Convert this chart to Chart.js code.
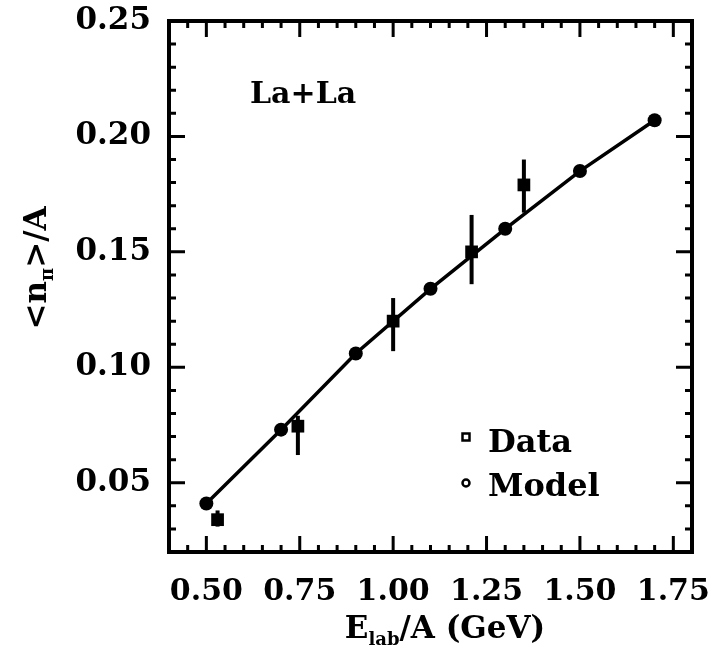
<!DOCTYPE html>
<html>
<head>
<meta charset="utf-8">
<script src="https://cdn.jsdelivr.net/npm/chart.js@4"></script>
<style>
  html, body { margin: 0; padding: 0; background: #fff; }
  #wrap { width: 709px; height: 657px; }
</style>
</head>
<body>
<div id="wrap"><canvas id="chart" width="709" height="657"></canvas></div>
<script>
// model curve (circles joined by the line)
const modelE = [0.5, 0.7, 0.9, 1.1, 1.3, 1.5, 1.7];
const modelN = [0.041, 0.073, 0.106, 0.134, 0.160, 0.185, 0.207];

// measured points with error bars
const dataE = [0.53, 0.745, 1.0, 1.21, 1.35];
const dataN = [0.034, 0.0745, 0.120, 0.150, 0.179];
const dataLo = [0.031, 0.062, 0.107, 0.136, 0.167];
const dataHi = [0.038, 0.079, 0.130, 0.166, 0.190];

const xTicks = [0.5, 0.75, 1.0, 1.25, 1.5, 1.75];
const yTicks = [0.05, 0.10, 0.15, 0.20, 0.25];
const xMinor = [0.45, 0.55, 0.6, 0.65, 0.7, 0.8, 0.85, 0.9, 0.95, 1.05, 1.1, 1.15, 1.2,
  1.3, 1.35, 1.4, 1.45, 1.55, 1.6, 1.65, 1.7];
const yMinor = [0.03, 0.04, 0.06, 0.07, 0.08, 0.09, 0.11, 0.12, 0.13, 0.14, 0.16, 0.17,
  0.18, 0.19, 0.21, 0.22, 0.23, 0.24];

const FONT = '"DejaVu Serif", serif';

const errorBars = {
  id: "errorBars",
  afterDatasetsDraw(chart) {
    const { ctx, scales } = chart;
    ctx.save();
    ctx.strokeStyle = "#000";
    ctx.lineWidth = 4;
    dataE.forEach((e, i) => {
      const x = scales.x.getPixelForValue(e);
      ctx.beginPath();
      ctx.moveTo(x, scales.y.getPixelForValue(dataLo[i]));
      ctx.lineTo(x, scales.y.getPixelForValue(dataHi[i]));
      ctx.stroke();
    });
    ctx.restore();
  },
};

const frame = {
  id: "frame",
  afterDraw(chart) {
    const { ctx, chartArea: a, scales } = chart;
    ctx.save();
    ctx.strokeStyle = "#000";
    ctx.lineWidth = 4;
    ctx.strokeRect(a.left, a.top, a.right - a.left, a.bottom - a.top);

    ctx.lineWidth = 3;
    const tick = (vals, len) => {
      vals.forEach((v) => {
        const x = scales.x.getPixelForValue(v);
        ctx.beginPath();
        ctx.moveTo(x, a.bottom);
        ctx.lineTo(x, a.bottom - len);
        ctx.moveTo(x, a.top);
        ctx.lineTo(x, a.top + len);
        ctx.stroke();
      });
    };
    const ytick = (vals, len) => {
      vals.forEach((v) => {
        const y = scales.y.getPixelForValue(v);
        ctx.beginPath();
        ctx.moveTo(a.left, y);
        ctx.lineTo(a.left + len, y);
        ctx.moveTo(a.right, y);
        ctx.lineTo(a.right - len, y);
        ctx.stroke();
      });
    };
    tick(xTicks, 16);
    tick(xMinor, 7);
    ytick(yTicks, 16);
    ytick(yMinor, 7);

    // axis titles with subscripts
    ctx.fillStyle = "#000";
    ctx.textBaseline = "alphabetic";
    const big = "bold 31px " + FONT;
    const small = "bold 18px " + FONT;

    const xParts = [["E", big, 0], ["lab", small, 7], ["/A (GeV)", big, 0]];
    let w = 0;
    xParts.forEach((p) => { ctx.font = p[1]; w += ctx.measureText(p[0]).width; });
    let x = 445 - w / 2;
    xParts.forEach((p) => {
      ctx.font = p[1];
      ctx.fillText(p[0], x, 638 + p[2]);
      x += ctx.measureText(p[0]).width;
    });

    ctx.save();
    ctx.translate(46, 268);
    ctx.rotate(-Math.PI / 2);
    const yParts = [["<n", big, 0], ["\u03c0", small, 7], [">/A", big, 0]];
    w = 0;
    yParts.forEach((p) => { ctx.font = p[1]; w += ctx.measureText(p[0]).width; });
    x = -w / 2;
    yParts.forEach((p) => {
      ctx.font = p[1];
      ctx.fillText(p[0], x, p[2]);
      x += ctx.measureText(p[0]).width;
    });
    ctx.restore();

    // reaction label
    ctx.font = "bold 30px " + FONT;
    ctx.fillText("La+La", 250, 103);

    // legend
    ctx.lineWidth = 2.5;
    ctx.strokeRect(462.5, 433.5, 7, 7);
    ctx.beginPath();
    ctx.arc(466, 483, 3.5, 0, Math.PI * 2);
    ctx.stroke();
    ctx.font = "bold 32px " + FONT;
    ctx.fillText(chart.data.datasets[1].label, 488, 452);
    ctx.fillText(chart.data.datasets[0].label, 488, 496);
    ctx.restore();
  },
};

new Chart(document.getElementById("chart"), {
  type: "scatter",
  data: {
    datasets: [
      {
        label: "Model",
        data: modelE.map((e, i) => ({ x: e, y: modelN[i] })),
        showLine: true,
        borderColor: "#000",
        borderWidth: 3.5,
        backgroundColor: "#000",
        pointStyle: "circle",
        pointRadius: 7,
        pointBorderWidth: 0,
      },
      {
        label: "Data",
        data: dataE.map((e, i) => ({ x: e, y: dataN[i] })),
        showLine: false,
        backgroundColor: "#000",
        borderColor: "#000",
        pointStyle: "rect",
        pointRadius: 9,
        pointBorderWidth: 0,
      },
    ],
  },
  options: {
    responsive: false,
    animation: false,
    layout: { padding: { top: 21, right: 17, left: 0, bottom: 0 } },
    plugins: {
      legend: { display: false },
      tooltip: { enabled: false },
    },
    scales: {
      x: {
        type: "linear",
        min: 0.4,
        max: 1.8,
        grid: { display: false, drawTicks: false },
        border: { display: false },
        afterBuildTicks: (s) => { s.ticks = xTicks.map((v) => ({ value: v })); },
        afterFit: (s) => { s.height = 105; s.paddingLeft = 0; s.paddingRight = 0; },
        ticks: {
          autoSkip: false,
          maxRotation: 0,
          padding: 22,
          color: "#000",
          font: { family: FONT, size: 30, weight: "bold" },
          callback: (v) => Number(v).toFixed(2),
        },
      },
      y: {
        type: "linear",
        min: 0.02,
        max: 0.25,
        grid: { display: false, drawTicks: false },
        border: { display: false },
        afterBuildTicks: (s) => { s.ticks = yTicks.map((v) => ({ value: v })); },
        afterFit: (s) => { s.width = 169; s.paddingTop = 0; s.paddingBottom = 0; },
        ticks: {
          autoSkip: false,
          padding: 18,
          color: "#000",
          font: { family: FONT, size: 31, weight: "bold" },
          callback: (v) => Number(v).toFixed(2),
        },
      },
    },
  },
  plugins: [errorBars, frame],
});
</script>
</body>
</html>
